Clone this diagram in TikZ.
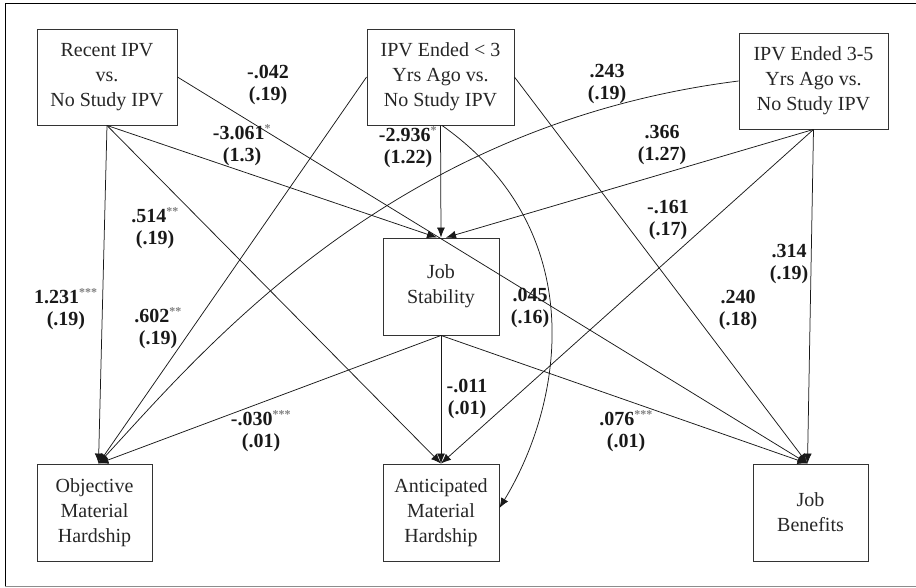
\documentclass[tikz,border=0pt]{standalone}
\usepackage{fontspec}
\setmainfont{Liberation Serif}
\usetikzlibrary{arrows.meta,calc}
\newcommand\sigstars[1]{\textsuperscript{\fontsize{12}{12}\selectfont\color{black!50}#1}}
\tikzset{
  box/.style={draw=black!80, line width=0.9pt, inner sep=0pt, align=center,
    text=black!85, font=\fontsize{20}{25}\selectfont},
  lab/.style={font=\bfseries\fontsize{20}{22}\selectfont, align=center, inner sep=0pt, text=black!90},
  edge/.style={-{Latex[length=10pt,width=8pt]}, line width=0.75pt, black!90}
}
\begin{document}
\begin{tikzpicture}[x=1pt,y=-1pt]
\useasboundingbox (0,0) rectangle (916,587);
\draw[line width=0.9pt] (5,586) -- (5,3) -- (916,3);
\draw[line width=0.9pt, black!45] (5,586) -- (916,586);

\node[box, minimum width=140pt, minimum height=96pt] (rec) at (107,77) {Recent IPV\\vs.\\No Study IPV};
\node[box, minimum width=147pt, minimum height=96pt] (lt3) at (440.5,77) {IPV Ended < 3\\Yrs Ago vs.\\No Study IPV};
\node[box, minimum width=149pt, minimum height=96pt] (t35) at (813.5,81) {IPV Ended 3-5\\Yrs Ago vs.\\No Study IPV};
\node[box, minimum width=116pt, minimum height=97pt] (js) at (441,286.5) {Job\\Stability};
\node[box, minimum width=115pt, minimum height=97pt] (obj) at (94.5,512.5) {Objective\\Material\\Hardship};
\node[box, minimum width=116pt, minimum height=97pt] (ant) at (441,512.5) {Anticipated\\Material\\Hardship};
\node[box, minimum width=115pt, minimum height=97pt] (ben) at (810.5,512.5) {Job\\Benefits};

\coordinate (objT) at ([xshift=4pt]obj.north);
\coordinate (benT) at ([xshift=-3pt]ben.north);
\coordinate (antR) at ([yshift=4.5pt]ant.east);

\draw[edge] (rec.south) -- (objT);
\draw[edge] (rec.south) -- ([xshift=-4pt]js.north);
\draw[edge] (rec.south) -- (ant.north);
\draw[edge] (rec.east) -- (benT);
\draw[edge] (lt3.west) -- (objT);
\draw[edge] (lt3.south) -- (js.north);
\draw[edge] ([xshift=1.5pt]lt3.south) .. controls (590,230) and (565,400) .. (antR);
\draw[edge] (lt3.east) -- (benT);
\draw[edge] (t35.west) .. controls (389,125) and (201,353) .. (objT);
\draw[edge] (t35.south) -- ([xshift=5pt]js.north);
\draw[edge] (t35.south) -- (ant.north);
\draw[edge] (t35.south) -- (benT);
\draw[edge] (js.south) -- (objT);
\draw[edge] (js.south) -- (ant.north);
\draw[edge] (js.south) -- (benT);

\node[lab] (l1) at (268,85) {-.042\\(.19)};
\node[lab] (l2) at (242,145) {-3.061\sigstars{*}\\(1.3)};
\node[lab] (l3) at (155,228) {.514\sigstars{**}\\(.19)};
\node[lab] (l4) at (66,309) {1.231\sigstars{***}\\(.19)};
\node[lab] (l5) at (158,328) {.602\sigstars{**}\\(.19)};
\node[lab] (l6) at (408,147) {-2.936\sigstars{*}\\(1.22)};
\node[lab] (l7) at (530,308) {.045\\(.16)};
\node[lab] (l8) at (738,310) {.240\\(.18)};
\node[lab] (l9) at (607,84) {.243\\(.19)};
\node[lab] (l10) at (662,145) {.366\\(1.27)};
\node[lab] (l11) at (668,220) {-.161\\(.17)};
\node[lab] (l12) at (789,264) {.314\\(.19)};
\node[lab] (l13) at (261,431) {-.030\sigstars{***}\\(.01)};
\node[lab] (l14) at (467,399) {-.011\\(.01)};
\node[lab] (l15) at (626,431) {.076\sigstars{***}\\(.01)};
\end{tikzpicture}
\end{document}
